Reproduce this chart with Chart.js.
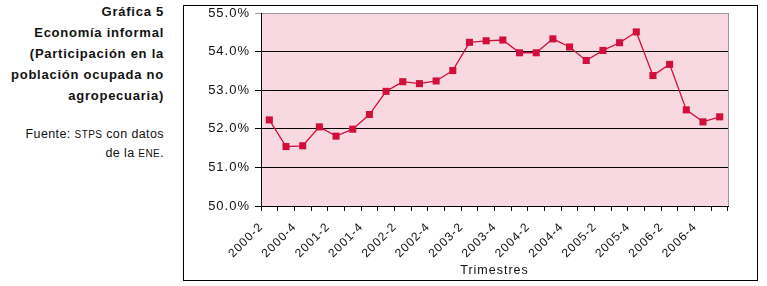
<!DOCTYPE html>
<html>
<head>
<meta charset="utf-8">
<script src="https://cdn.jsdelivr.net/npm/chart.js@4/dist/chart.umd.min.js"></script>
<style>
  html, body { margin: 0; padding: 0; background: #ffffff; }
  body { width: 767px; height: 286px; position: relative; overflow: hidden; font-family: "Liberation Sans", Arial, sans-serif; }
  #frame { position: absolute; left: 183px; top: 5px; width: 573px; height: 274px; border: 1px solid #000; box-sizing: content-box; }
  #wrap { position: absolute; left: 0; top: 0; width: 767px; height: 286px; }
  .side { position: absolute; right: 603px; text-align: right; white-space: nowrap; color: #111; }
  .bold { font-weight: bold; font-size: 13px; line-height: 21px; letter-spacing: 0.75px; }
  .src { font-size: 12.5px; line-height: 19px; letter-spacing: 0.4px; }
  .sc { font-size: 10px; }
</style>
</head>
<body>
<div id="frame"></div>
<div class="side bold" style="top:1px;">Gráfica 5<br>Economía informal<br>(Participación en la<br>población ocupada no<br>agropecuaria)</div>
<div class="side src" style="top:125px;">Fuente: <span class="sc">STPS</span> con datos<br>de la <span class="sc">ENE</span>.</div>
<div id="wrap"><canvas id="c" width="767" height="286"></canvas></div>
<script>
const quarters = ["2000-2","2000-3","2000-4","2001-1","2001-2","2001-3","2001-4","2002-1","2002-2","2002-3","2002-4","2003-1","2003-2","2003-3","2003-4","2004-1","2004-2","2004-3","2004-4","2005-1","2005-2","2005-3","2005-4","2006-1","2006-2","2006-3","2006-4","2007-1"];
const informalShare = [52.23,51.54,51.56,52.05,51.81,51.99,52.37,52.97,53.22,53.17,53.24,53.51,54.24,54.28,54.30,53.97,53.97,54.33,54.12,53.77,54.03,54.23,54.51,53.38,53.67,52.49,52.18,52.31];
const yTicks = [50,51,52,53,54,55];

const FONT = '"Liberation Sans", Arial, sans-serif';

const bgPlugin = {
  id: 'bg',
  beforeDraw(chart) {
    const a = chart.chartArea, ctx = chart.ctx;
    ctx.letterSpacing = '1px';
    ctx.save();
    ctx.fillStyle = '#F9D9E1';
    ctx.fillRect(a.left, a.top, a.right - a.left, a.bottom - a.top);
    ctx.restore();
  },
  beforeDatasetsDraw(chart) {
    const a = chart.chartArea, ctx = chart.ctx;
    ctx.save();
    ctx.strokeStyle = '#9a9a9a';
    ctx.lineWidth = 1;
    ctx.beginPath();
    ctx.moveTo(a.right + 0.5, a.top);
    ctx.lineTo(a.right + 0.5, a.bottom);
    ctx.stroke();
    ctx.restore();
  }
};

new Chart(document.getElementById('c'), {
  type: 'line',
  data: {
    labels: quarters,
    datasets: [{
      data: informalShare,
      borderColor: '#D0103A',
      backgroundColor: '#D0103A',
      borderWidth: 1.3,
      pointStyle: 'rect',
      pointRadius: 5,
      pointBorderWidth: 0,
      tension: 0,
      fill: false
    }]
  },
  options: {
    responsive: false,
    animation: false,
    devicePixelRatio: 1,
    layout: { padding: { left: 190, right: 39, top: 13, bottom: 5 } },
    plugins: { legend: { display: false }, tooltip: { enabled: false } },
    scales: {
      x: {
        offset: true,
        afterFit(scale) { scale.height = 75; },
        grid: { display: true, offset: true, drawOnChartArea: false, drawTicks: true, tickLength: 5, color: '#000' },
        border: { display: true, color: '#000', width: 1 },
        ticks: {
          autoSkip: false, maxRotation: 45, minRotation: 45, padding: 9, labelOffset: -8,
          color: '#111', font: { family: FONT, size: 12 },
          callback(v, i) { return i % 2 === 0 ? quarters[i] : ''; }
        },
        title: { display: true, text: 'Trimestres', color: '#111', font: { family: FONT, size: 12.5 }, padding: { top: 4, bottom: 3 } }
      },
      y: {
        min: 50, max: 55,
        afterFit(scale) { scale.width = 71; },
        afterBuildTicks(scale) { scale.ticks = yTicks.map(v => ({ value: v })); },
        grid: {
          color: ctx => (ctx.tick && ctx.tick.value === 55) ? '#9a9a9a' : '#000',
          lineWidth: 1, tickLength: 6, drawTicks: true
        },
        border: { display: true, color: '#000', width: 1 },
        ticks: {
          padding: 5, color: '#111', font: { family: FONT, size: 13 },
          callback(v) { return Number(v).toFixed(1) + '%'; }
        }
      }
    }
  },
  plugins: [bgPlugin]
});
</script>
</body>
</html>
